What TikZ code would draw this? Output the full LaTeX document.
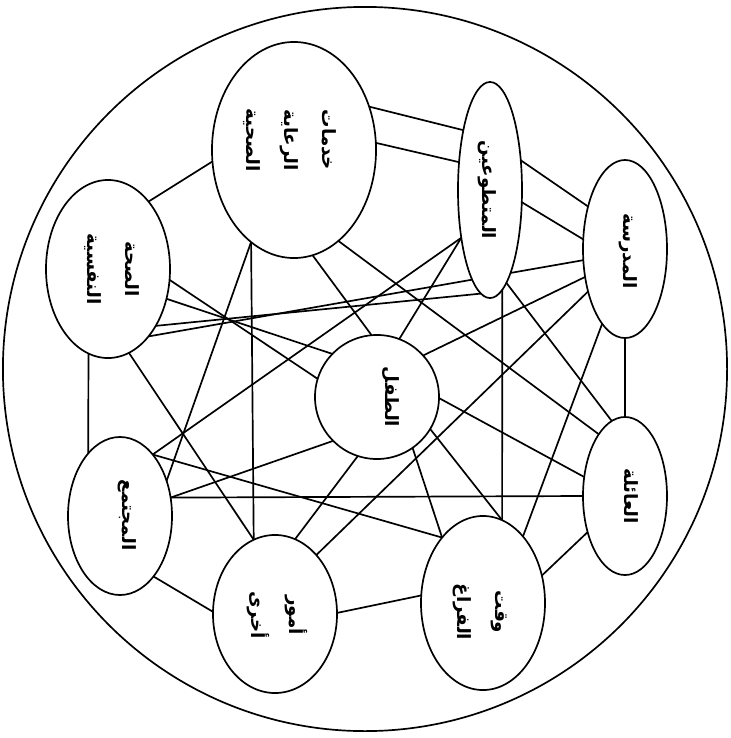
\documentclass[tikz,border=0pt]{standalone}
\usepackage{fontspec}
\usepackage{tikz}
\usetikzlibrary{shapes.geometric,backgrounds}
\newfontfamily\arabicfont[Script=Arabic]{DejaVu Sans}
\TeXXeTstate=1
\tikzset{
  every picture/.style={draw=black, text=black},
}

\begin{document}
\begin{tikzpicture}[x=0.025cm, y=-0.025cm, line width=1.2pt,
  blob/.style={draw, ellipse, fill=white, inner sep=0pt, outer sep=0pt},
  link/.style={line width=1.2pt},
  word/.style={rotate=-90, align=center, inner sep=0pt,
    font=\arabicfont\bfseries\fontsize{13}{27}\selectfont}]

\useasboundingbox (0,0) rectangle (731,738);

%% Outer circle
\draw (365,369) circle[radius=9.05cm];

%% Ellipses
\node[blob, minimum width=4.1cm, minimum height=5.4cm]  (care)    at (294,150) {};
\node[blob, minimum width=1.6cm, minimum height=5.4cm]  (vol)     at (490,190) {};
\node[blob, minimum width=2.1cm, minimum height=4.45cm] (school)  at (625,249) {};
\node[blob, minimum width=3.1cm, minimum height=4.45cm] (psych)   at (108,269) {};
\node[blob, circle, minimum size=3.1cm]                 (child)   at (377,397) {};
\node[blob, minimum width=2.1cm, minimum height=3.95cm] (family)  at (625,496) {};
\node[blob, minimum width=3.1cm, minimum height=4.35cm] (leisure) at (483,603) {};
\node[blob, minimum width=3.1cm, minimum height=3.95cm] (other)   at (275,614) {};
\node[blob, minimum width=2.6cm, minimum height=3.95cm] (society) at (120,516) {};

%% Labels
\node[word] (care-t)    at (290,140) {\beginR خدمات\endR\\\beginR الرعاية\endR\\\beginR الصحية\endR};
\node[word] (vol-t)     at (487,190) {\beginR المتطوعين\endR};
\node[word] (school-t)  at (628,251) {\beginR المدرسة\endR};
\node[word] (psych-t)   at (112,269) {\beginR الصحة\endR\\\beginR النفسية\endR};
\node[word] (child-t)   at (391,397) {\beginR الطفل\endR};
\node[word] (family-t)  at (631,496) {\beginR العائلة\endR};
\node[word] (leisure-t) at (480,612) {\beginR وقت\endR\\\beginR الفراغ\endR};
\node[word] (other-t)   at (277,615) {\beginR أمور\endR\\\beginR أخرى\endR};
\node[word] (society-t) at (127,515) {\beginR المجتمع\endR};

%% Links
\begin{scope}[on background layer, every path/.style={link}]
  % round the ring
  \draw (care.30)    -- (vol.114);
  \draw (care.5)     -- (vol.138);
  \draw (care.188)   -- (psych.59);
  \draw (vol.44)     -- (school.131);
  \draw (vol.-21)    -- (school.167);
  \draw (psych.-103) -- (society.117);
  \draw (society.-61) -- (other.178);
  \draw (other.1)    -- (leisure.173);
  \draw (leisure.25) -- (family.-136);
  \draw (school.-90) -- (family.90);
  % across
  \draw (care.-115)  -- (other.106);
  \draw (care.-115)  -- (society.37);
  \draw (care.-80)   -- (child.95);
  \draw (care.-64)   -- (family.113);
  \draw (psych.-76)  -- (other.106);
  \draw (psych.-10)  -- (child.163);
  \draw (psych.-27)  -- (child.136);
  \draw (psych.-50)  -- (vol.-95);
  \draw (school.-165) -- (psych.-59);
  \draw (vol.-121)   -- (society.62);
  \draw (vol.-121)   -- (child.69);
  \draw (vol.-83)    -- (leisure.77);
  \draw (vol.-80)    -- (family.100);
  \draw (school.-145) -- (child.42);
  \draw (school.-131) -- (other.55);
  \draw (school.-107) -- (leisure.59);
  \draw (child.-1)   -- (family.155);
  \draw (child.-31)  -- (leisure.77);
  \draw (child.-55)  -- (leisure.122);
  \draw (child.-108) -- (other.75);
  \draw (society.20) -- (family.180);
  \draw (society.20) -- (child.-135);
  \draw (society.62) -- (leisure.122);
\end{scope}

\end{tikzpicture}
\end{document}
